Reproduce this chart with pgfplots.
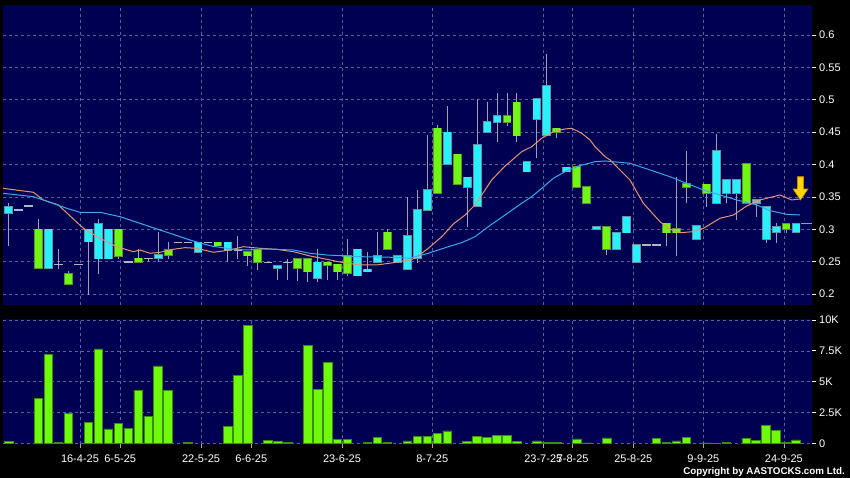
\documentclass[border=0pt]{standalone}
\usepackage{pgfplots}
\pgfplotsset{compat=1.18}
\usepackage{pgfplotstable}
\usepackage{fontspec}
\setmainfont{Liberation Sans}

\definecolor{navy}{RGB}{0,0,82}
\definecolor{gridc}{RGB}{95,95,155}
\definecolor{cyanf}{RGB}{40,240,255}
\definecolor{cyanb}{RGB}{95,150,165}
\definecolor{greenf}{RGB}{112,245,20}
\definecolor{greenb}{RGB}{85,150,45}
\definecolor{wickc}{RGB}{160,160,178}
\definecolor{dashc}{RGB}{180,180,195}
\definecolor{greyf}{RGB}{150,175,190}
\definecolor{maor}{RGB}{228,150,110}
\definecolor{mabl}{RGB}{60,168,238}
\definecolor{volf}{RGB}{110,250,10}
\definecolor{volb}{RGB}{60,140,20}
\definecolor{arrowf}{RGB}{255,214,0}
\definecolor{arrowb}{RGB}{200,140,0}
\definecolor{lastc}{RGB}{150,150,200}
\definecolor{xtickc}{RGB}{170,170,170}

\pgfplotstableread{
x b t lo hi
0 0.325 0.335 0.274 0.341
4 0.240 0.300 0.240 0.300
8 0.281 0.300 0.199 0.300
9 0.255 0.309 0.231 0.316
10 0.255 0.300 0.255 0.300
15 0.2554 0.2605 0.249 0.2955
19 0.2647 0.280 0.2647 0.280
22 0.268 0.280 0.249 0.280
27 0.240 0.244 0.222 0.244
31 0.2245 0.249 0.219 0.270
35 0.2286 0.2693 0.2286 0.2693
36 0.2348 0.2384 0.2348 0.2647
37 0.249 0.2594 0.249 0.2955
39 0.249 0.2594 0.249 0.2594
40 0.2384 0.2898 0.2384 0.3505
41 0.2554 0.330 0.2486 0.361
42 0.330 0.361 0.330 0.4457
44 0.4009 0.4498 0.4009 0.4904
46 0.365 0.3804 0.3042 0.3804
47 0.3361 0.4302 0.3361 0.5008
48 0.4498 0.4653 0.4498 0.4961
49 0.4653 0.4755 0.4354 0.510
52 0.389 0.4045 0.389 0.4045
53 0.4699 0.5008 0.4097 0.5008
54 0.4457 0.5213 0.4457 0.5707
56 0.389 0.3958 0.389 0.3958
59 0.300 0.3042 0.300 0.3042
61 0.2693 0.2949 0.2693 0.2949
62 0.2949 0.3196 0.2949 0.3196
63 0.249 0.276 0.249 0.276
69 0.2847 0.3053 0.2847 0.3053
71 0.3403 0.421 0.3403 0.4468
72 0.3557 0.3758 0.3403 0.3758
73 0.3557 0.3758 0.3145 0.3758
76 0.2852 0.335 0.2796 0.335
77 0.2955 0.3042 0.2796 0.3094
79 0.2955 0.3083 0.2955 0.3083
}\cyantab

\pgfplotstableread{
x b t lo hi
3 0.240 0.300 0.240 0.316
6 0.215 0.231 0.215 0.236
11 0.259 0.300 0.255 0.300
13 0.249 0.2554 0.249 0.270
16 0.2605 0.268 0.255 0.280
21 0.2749 0.280 0.2749 0.280
24 0.2594 0.2647 0.244 0.2647
25 0.249 0.268 0.2374 0.268
29 0.240 0.2543 0.220 0.2543
30 0.2348 0.2543 0.219 0.2543
32 0.245 0.249 0.2224 0.249
33 0.2348 0.246 0.2224 0.246
34 0.2322 0.2594 0.228 0.2852
38 0.2693 0.2955 0.2693 0.3006
43 0.3557 0.456 0.3557 0.461
45 0.3696 0.4159 0.3696 0.4159
50 0.4653 0.4755 0.4596 0.510
51 0.4446 0.4961 0.4354 0.510
55 0.4498 0.456 0.4406 0.456
57 0.365 0.3968 0.365 0.3968
58 0.3403 0.365 0.3403 0.365
60 0.2693 0.3042 0.2605 0.3042
66 0.2949 0.3094 0.2744 0.3094
67 0.2949 0.3006 0.259 0.3804
68 0.365 0.370 0.3403 0.4214
70 0.3557 0.3696 0.335 0.3696
74 0.3403 0.4005 0.3403 0.4005
78 0.3003 0.3083 0.2949 0.3083
}\greentab

\pgfplotstableread{
x b t lo hi
75 0.3403 0.3454 0.3196 0.3454
}\greytab

\pgfplotstableread{
x v lo hi
1 0.330 0.330 0.330
2 0.336 0.336 0.336
5 0.246 0.239 0.270
7 0.246 0.246 0.246
12 0.250 0.250 0.250
14 0.255 0.249 0.255
17 0.280 0.280 0.280
18 0.280 0.280 0.280
20 0.280 0.280 0.280
23 0.268 0.254 0.290
26 0.249 0.249 0.249
28 0.249 0.222 0.255
64 0.276 0.276 0.276
65 0.276 0.276 0.276
}\flattab

\pgfplotstableread{
x v
0 0.13
3 3.65
4 7.22
5 0.05
6 2.43
8 1.70
9 7.65
10 1.16
11 1.62
12 1.22
13 4.27
14 2.21
15 6.27
16 4.32
18 0.04
22 1.40
23 5.48
24 9.59
26 0.21
27 0.13
28 0.08
30 7.97
31 4.40
32 6.54
33 0.32
34 0.32
36 0.05
37 0.46
38 0.10
40 0.19
41 0.54
42 0.54
43 0.81
44 1.00
46 0.13
47 0.54
48 0.51
49 0.67
50 0.62
51 0.13
53 0.19
54 0.10
55 0.08
57 0.35
58 0.03
60 0.43
65 0.38
66 0.10
67 0.19
68 0.46
70 0.03
71 0.02
72 0.05
74 0.38
75 0.24
76 1.43
77 1.05
78 0.10
79 0.27
}\voltab

\pgfplotsset{
  errbase/.style={draw=none, mark=none, forget plot,
    /pgfplots/error bars/y dir=plus,
    /pgfplots/error bars/y explicit,
    /pgfplots/error bars/error mark=none},
  wick/.style={errbase, /pgfplots/error bars/error bar style={draw=wickc, line width=1pt, solid}},
  bodyout/.style={errbase, /pgfplots/error bars/error bar style={draw=#1, line width=8.8pt, solid}},
  bodyin/.style={errbase, /pgfplots/error bars/error bar style={draw=#1, line width=7pt, solid}},
  flatdash/.style={errbase, /pgfplots/error bars/error bar style={draw=dashc, line width=8.6pt, solid}},
  common/.style={
    scale only axis, width=809pt,
    xmin=-0.572, xmax=80.604,
    axis background/.style={fill=navy},
    axis line style={draw=none},
    xtick={7.15,11.19,19.30,24.34,33.44,42.50,53.64,56.59,62.67,69.7,77.78},
    grid=major,
    grid style={gridc, line width=0.6pt, dash pattern=on 3pt off 3pt},
    tick align=outside, major tick length=4pt,
    tick style={white, line width=0.8pt},
    ytick pos=right, yticklabel pos=right,
    tick label style={font=\fontsize{11}{13}\selectfont, text=white},
    yticklabel style={anchor=west, inner sep=0pt, xshift=3pt},
  },
}

\begin{document}
\begin{tikzpicture}[x=1pt,y=1pt]
\fill[black] (0,0) rectangle (850,478);
\useasboundingbox (0,0) rectangle (850,478);

% price panel
\begin{axis}[common, at={(3pt,173pt)}, anchor=south west, height=300pt,
  ymin=0.18333, ymax=0.6463,
  xticklabels={}, xtick style={draw=none},
  ytick={0.2,0.25,0.3,0.35,0.4,0.45,0.5,0.55,0.6},
  yticklabels={0.2,0.25,0.3,0.35,0.4,0.45,0.5,0.55,0.6},
]
% wicks
\addplot[wick] table[x=x, y=lo, y error expr=\thisrow{hi}-\thisrow{lo}] {\cyantab};
\addplot[wick] table[x=x, y=lo, y error expr=\thisrow{hi}-\thisrow{lo}] {\greentab};
\addplot[wick] table[x=x, y=lo, y error expr=\thisrow{hi}-\thisrow{lo}] {\greytab};
\addplot[wick] table[x=x, y=lo, y error expr=\thisrow{hi}-\thisrow{lo}] {\flattab};
% flat dashes
\addplot[flatdash] table[x=x, y expr=\thisrow{v}-0.0011, y error expr=0.0022] {\flattab};
% bodies
\addplot[bodyout=cyanb] table[x=x, y expr=\thisrow{b}-0.0012, y error expr=\thisrow{t}-\thisrow{b}+0.0024] {\cyantab};
\addplot[bodyin=cyanf] table[x=x, y=b, y error expr=\thisrow{t}-\thisrow{b}] {\cyantab};
\addplot[bodyout=greenb] table[x=x, y expr=\thisrow{b}-0.0012, y error expr=\thisrow{t}-\thisrow{b}+0.0024] {\greentab};
\addplot[bodyin=greenf] table[x=x, y=b, y error expr=\thisrow{t}-\thisrow{b}] {\greentab};
\addplot[bodyout=cyanb] table[x=x, y expr=\thisrow{b}-0.0012, y error expr=\thisrow{t}-\thisrow{b}+0.0024] {\greytab};
\addplot[bodyin=greyf] table[x=x, y=b, y error expr=\thisrow{t}-\thisrow{b}] {\greytab};

% moving averages
\addplot[maor, line width=1pt, mark=none] coordinates {
(-0.57,0.3634) (2.47,0.3573) (3.47,0.3454) (4.98,0.3377) (7.49,0.3017) (9.16,0.2863)
(10.84,0.2733) (12.50,0.2656) (13.17,0.2682) (14.18,0.2631) (15.18,0.2647) (16.52,0.2693)
(17.69,0.2718) (18.86,0.2708) (20.53,0.2647) (22.21,0.2682) (23.54,0.2733) (25.22,0.2708)
(26.89,0.2693) (28.56,0.2656) (30.23,0.2590) (31.91,0.2539) (33.57,0.2486) (35.25,0.2451)
(36.93,0.2451) (38.59,0.2486) (40.26,0.2528) (40.77,0.2554) (42.10,0.2708) (43.45,0.2887)
(44.61,0.3083) (45.79,0.3222) (46.79,0.3377) (47.46,0.3531) (48.46,0.3762) (49.80,0.3978)
(50.13,0.4020) (51.47,0.4199) (52.48,0.4276) (53.48,0.4406) (54.65,0.4508) (55.82,0.4549)
(56.49,0.4560) (57.50,0.4483) (58.33,0.4380) (58.83,0.4276) (59.84,0.4122) (60.34,0.4071)
(62.34,0.3762) (63.68,0.3403) (65.35,0.3119) (66.35,0.3001) (67.36,0.2949) (68.70,0.2965)
(69.70,0.3017) (71.37,0.3171) (72.71,0.3222) (74.05,0.3361) (75.38,0.3454) (77.39,0.3531)
(78.56,0.3454) (79.40,0.3469)
};
\addplot[mabl, line width=1pt, mark=none] coordinates {
(-0.57,0.3557) (2.47,0.3505) (4.14,0.3418) (5.82,0.3326) (7.15,0.3264) (9.16,0.3264)
(11.17,0.3196) (13.17,0.3094) (14.18,0.3042) (16.18,0.2940) (18.19,0.2836) (20.20,0.2748)
(22.21,0.2698) (23.88,0.2682) (25.55,0.2698) (28.56,0.2682) (30.23,0.2631) (31.91,0.2605)
(35.25,0.2579) (38.59,0.2569) (40.26,0.2554) (40.77,0.2579) (42.10,0.2631) (44.11,0.2733)
(45.45,0.2795) (46.79,0.2887) (48.12,0.3042) (49.80,0.3222) (50.13,0.3258) (51.47,0.3403)
(52.48,0.3505) (53.48,0.3634) (54.65,0.3789) (55.82,0.3890) (57.16,0.3978) (58.83,0.4045)
(59.84,0.4056) (62.34,0.4020) (64.35,0.3917) (66.35,0.3813) (68.03,0.3711) (69.70,0.3608)
(71.37,0.3531) (73.05,0.3454) (75.06,0.3377) (76.39,0.3289) (78.07,0.3233) (79.40,0.3222)
};
% last price line
\addplot[lastc, line width=1pt, mark=none] coordinates {(79.5,0.309) (80.6,0.309)};
% arrow
\addplot[fill=arrowf, draw=arrowb, line width=0.6pt, mark=none] coordinates {
(79.15,0.3813) (79.75,0.3813) (79.75,0.3623) (80.2,0.3623) (79.45,0.3454) (78.7,0.3623) (79.15,0.3623)
} -- cycle;
\end{axis}

% volume panel
\begin{axis}[common, at={(3pt,34pt)}, anchor=south west, height=125pt,
  ymin=-0.057, ymax=10.08,
  xtick pos=bottom,
  x tick style={xtickc, line width=0.6pt},
  xticklabels={16-4-25,6-5-25,22-5-25,6-6-25,23-6-25,8-7-25,23-7-25,7-8-25,25-8-25,9-9-25,24-9-25},
  xticklabel style={anchor=north, inner sep=0pt, yshift=-7pt},
  ytick={0,2.5,5,7.5,10},
  yticklabels={0,2.5K,5K,7.5K,10K},
]
\addplot[ybar, bar width=8.6pt, fill=volf, draw=volb, line width=0.8pt] table[x=x, y=v] {\voltab};
\end{axis}

\node[anchor=east, text=white, font=\bfseries\fontsize{9.8}{11}\selectfont, inner sep=0pt] at (845,6.5) {Copyright by AASTOCKS.com Ltd.};
\end{tikzpicture}
\end{document}
